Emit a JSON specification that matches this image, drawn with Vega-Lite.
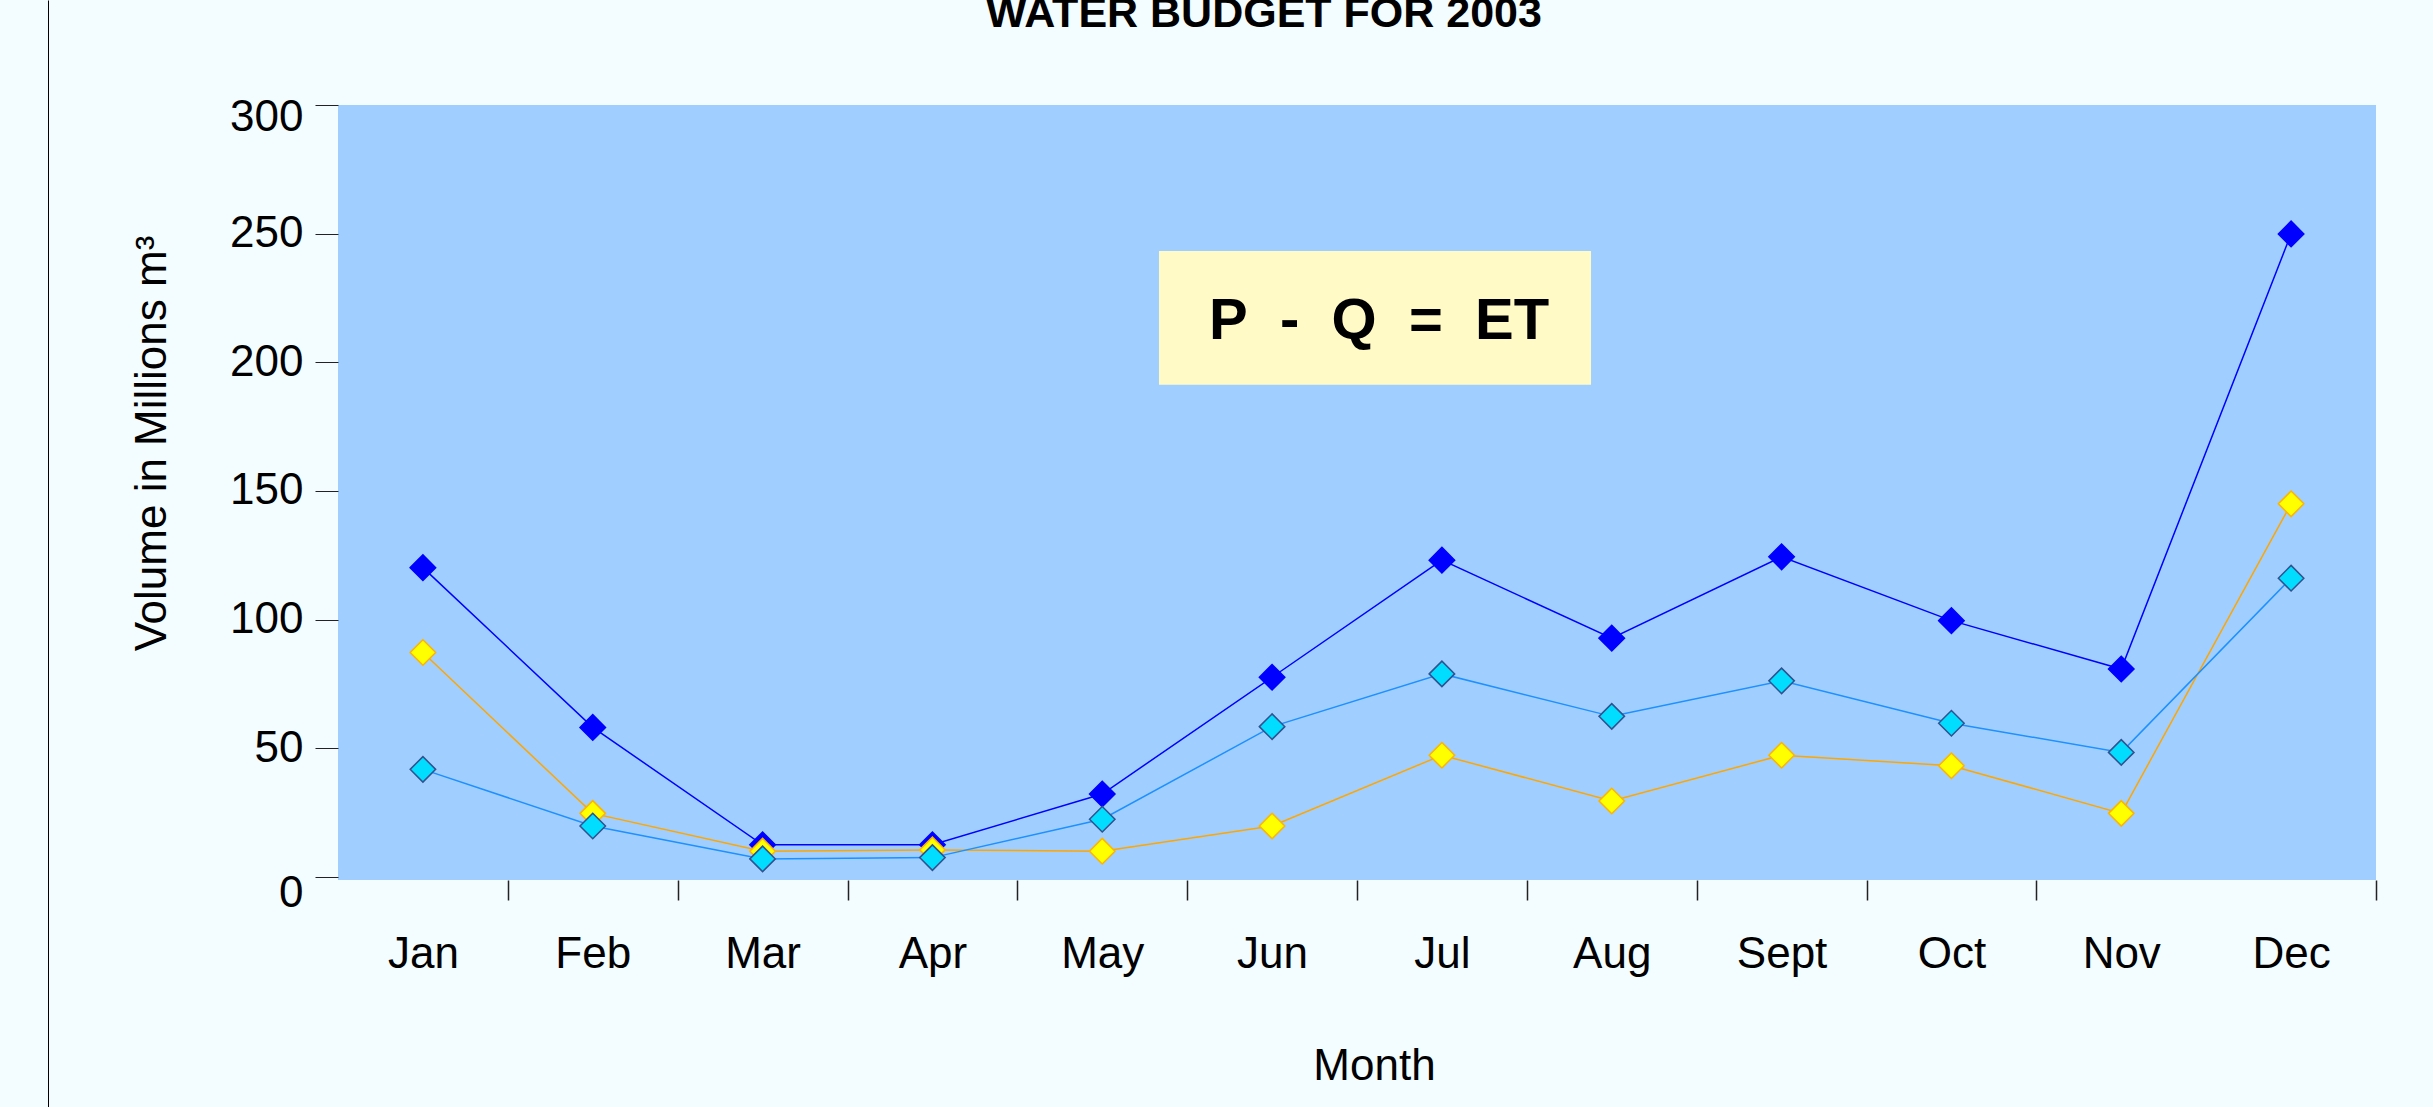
{
  "$schema": "https://vega.github.io/schema/vega-lite/v6.json",
  "width": 2038,
  "height": 775,
  "autosize": {"type": "none"},
  "padding": {"left": 338, "top": 105, "right": 57, "bottom": 227},
  "background": "#F3FCFE",
  "config": {
    "view": {"fill": "#A0CFFF", "stroke": null},
    "font": "Liberation Sans"
  },
  "title": {
    "text": "WATER BUDGET FOR 2003",
    "font": "Liberation Sans",
    "fontSize": 43,
    "fontWeight": "bold",
    "color": "#000000",
    "anchor": "middle",
    "frame": "group",
    "dx": -93,
    "dy": -25,
    "offset": 0,
    "baseline": "alphabetic"
  },
  "data": {
    "values": [
      {"month": "Jan", "series": "P", "value": 120.2},
      {"month": "Feb", "series": "P", "value": 58.1},
      {"month": "Mar", "series": "P", "value": 12.5},
      {"month": "Apr", "series": "P", "value": 12.5},
      {"month": "May", "series": "P", "value": 32.2},
      {"month": "Jun", "series": "P", "value": 77.6},
      {"month": "Jul", "series": "P", "value": 123.1},
      {"month": "Aug", "series": "P", "value": 92.8},
      {"month": "Sept", "series": "P", "value": 124.4},
      {"month": "Oct", "series": "P", "value": 99.6},
      {"month": "Nov", "series": "P", "value": 80.8},
      {"month": "Dec", "series": "P", "value": 249.9},
      {"month": "Jan", "series": "ET", "value": 87.2},
      {"month": "Feb", "series": "ET", "value": 24.7},
      {"month": "Mar", "series": "ET", "value": 10.0},
      {"month": "Apr", "series": "ET", "value": 10.5},
      {"month": "May", "series": "ET", "value": 10.0},
      {"month": "Jun", "series": "ET", "value": 19.8},
      {"month": "Jul", "series": "ET", "value": 47.3},
      {"month": "Aug", "series": "ET", "value": 29.5},
      {"month": "Sept", "series": "ET", "value": 47.3},
      {"month": "Oct", "series": "ET", "value": 43.2},
      {"month": "Nov", "series": "ET", "value": 24.7},
      {"month": "Dec", "series": "ET", "value": 145.0},
      {"month": "Jan", "series": "Q", "value": 41.8},
      {"month": "Feb", "series": "Q", "value": 19.8},
      {"month": "Mar", "series": "Q", "value": 7.0},
      {"month": "Apr", "series": "Q", "value": 7.5},
      {"month": "May", "series": "Q", "value": 22.4},
      {"month": "Jun", "series": "Q", "value": 58.4},
      {"month": "Jul", "series": "Q", "value": 78.9},
      {"month": "Aug", "series": "Q", "value": 62.4},
      {"month": "Sept", "series": "Q", "value": 76.2},
      {"month": "Oct", "series": "Q", "value": 59.7},
      {"month": "Nov", "series": "Q", "value": 48.4},
      {"month": "Dec", "series": "Q", "value": 116.1}
    ]
  },
  "layer": [
    {
      "layer": [
        {
          "layer": [
            {
              "mark": {"type": "line", "strokeWidth": 1.5},
              "encoding": {
                "x": {
                  "field": "month",
                  "type": "ordinal",
                  "sort": ["Jan", "Feb", "Mar", "Apr", "May", "Jun", "Jul", "Aug", "Sept", "Oct", "Nov", "Dec"],
                  "scale": {"type": "band", "paddingInner": 0, "paddingOuter": 0},
                  "title": "Month",
                  "axis": {
                    "labelAngle": 0,
                    "labelFont": "Liberation Sans",
                    "labelFontSize": 44,
                    "labelColor": "#000000",
                    "labelBaseline": "alphabetic",
                    "labelPadding": 67,
                    "domain": false,
                    "grid": false,
                    "tickBand": "extent",
                    "tickSize": 20,
                    "tickWidth": 1.5,
                    "tickColor": {"condition": {"test": "datum.value === 'Nov' || datum.extra", "value": "transparent"}, "value": "#222222"},
                    "titleFont": "Liberation Sans",
                    "titleFontSize": 44,
                    "titleFontWeight": "normal",
                    "titleColor": "#000000",
                    "titleX": 1036,
                    "titleY": 199,
                    "titleBaseline": "alphabetic",
                    "titleAlign": "center"
                  }
                },
                "y": {
                  "field": "value",
                  "type": "quantitative",
                  "title": "Volume in Millions m³",
                  "scale": {"domain": [-1.2, 300], "nice": false, "zero": false},
                  "axis": {
                    "values": [0, 50, 100, 150, 200, 250, 300],
                    "labelFont": "Liberation Sans",
                    "labelFontSize": 44,
                    "labelColor": "#000000",
                    "labelPadding": 12,
                    "labelOffset": {"condition": [{"test": "datum.value === 300", "value": 12}, {"test": "datum.value === 0", "value": 17}], "value": 0},
                    "domain": false,
                    "grid": false,
                    "tickSize": 23,
                    "tickWidth": 1,
                    "tickColor": "#222222",
                    "titleFont": "Liberation Sans",
                    "titleFontSize": 44,
                    "titleFontWeight": "normal",
                    "titleColor": "#000000",
                    "titleAngle": 270,
                    "titleX": -173,
                    "titleY": 338,
                    "titleBaseline": "alphabetic",
                    "titleAlign": "center"
                  }
                },
                "color": {
                  "field": "series",
                  "type": "nominal",
                  "scale": {"domain": ["P", "ET", "Q"], "range": ["#0000FF", "#FFA500", "#1E90FF"]},
                  "legend": null
                }
              }
            },
            {
              "mark": {"type": "point", "shape": "diamond", "size": 650, "filled": true, "opacity": 1, "strokeWidth": 1.5},
              "encoding": {
                "x": {
                  "field": "month",
                  "type": "ordinal",
                  "sort": ["Jan", "Feb", "Mar", "Apr", "May", "Jun", "Jul", "Aug", "Sept", "Oct", "Nov", "Dec"],
                  "scale": {"type": "band", "paddingInner": 0, "paddingOuter": 0},
                  "title": "Month"
                },
                "y": {
                  "field": "value",
                  "type": "quantitative",
                  "title": "Volume in Millions m³",
                  "scale": {"domain": [-1.2, 300], "nice": false, "zero": false}
                },
                "fill": {
                  "field": "series",
                  "type": "nominal",
                  "scale": {"domain": ["P", "ET", "Q"], "range": ["#0000FF", "#FFFF00", "#00DDFF"]},
                  "legend": null
                },
                "stroke": {
                  "field": "series",
                  "type": "nominal",
                  "scale": {"domain": ["P", "ET", "Q"], "range": ["#0000FF", "#FFB300", "#33508F"]},
                  "legend": null
                }
              }
            }
          ]
        },
        {
          "data": {
            "values": [
              {"label": "P\u00a0\u00a0-\u00a0\u00a0Q\u00a0\u00a0=\u00a0\u00a0ET", "start": 4.834, "end": 7.378, "low": 191.3, "high": 243.3, "tx": 6.13, "ty": 209.1}
            ]
          },
          "layer": [
            {
              "mark": {"type": "rect", "color": "#FFFAC6"},
              "encoding": {
                "x": {"field": "start", "type": "quantitative", "scale": {"domain": [0, 12], "nice": false, "zero": false}, "axis": null},
                "x2": {"field": "end"},
                "y": {"field": "low", "type": "quantitative", "title": "Volume in Millions m³", "scale": {"domain": [-1.2, 300], "nice": false, "zero": false}},
                "y2": {"field": "high"}
              }
            },
            {
              "mark": {"type": "text", "font": "Liberation Sans", "fontSize": 58, "fontWeight": "bold", "baseline": "alphabetic", "align": "center", "color": "#000000"},
              "encoding": {
                "x": {"field": "tx", "type": "quantitative", "scale": {"domain": [0, 12], "nice": false, "zero": false}, "axis": null},
                "y": {"field": "ty", "type": "quantitative", "title": "Volume in Millions m³", "scale": {"domain": [-1.2, 300], "nice": false, "zero": false}},
                "text": {"field": "label"}
              }
            }
          ]
        }
      ],
      "resolve": {"scale": {"x": "independent"}, "axis": {"x": "independent"}}
    },
    {
      "mark": {"type": "point", "opacity": 0},
      "encoding": {
        "y": {
          "field": "value",
          "type": "quantitative",
          "scale": {"domain": [0, 300], "range": [1002, -105]},
          "axis": {"orient": "left", "offset": 290, "ticks": false, "labels": false, "grid": false, "title": null, "domain": true, "domainColor": "#000000", "domainWidth": 1}
        }
      }
    }
  ],
  "resolve": {"scale": {"y": "independent"}, "axis": {"y": "independent"}}
}
